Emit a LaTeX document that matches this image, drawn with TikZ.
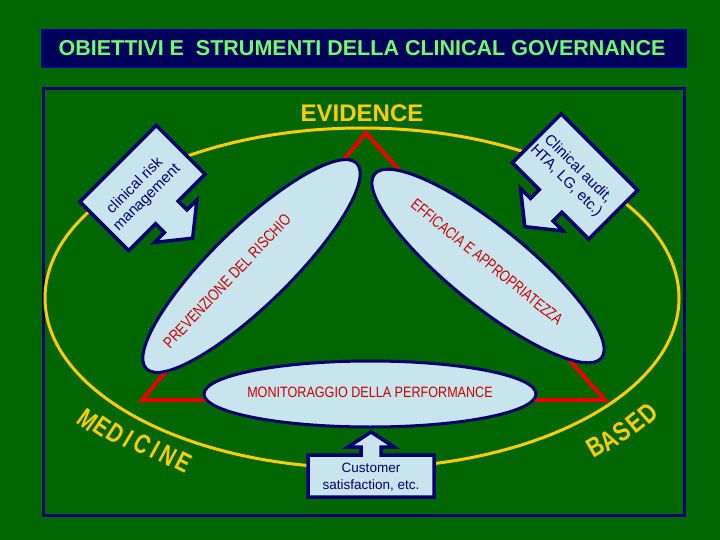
\documentclass[tikz,border=0pt]{standalone}
\usepackage{fontspec}
\setmainfont{Liberation Sans}
\usepackage{xcolor}
\definecolor{bggreen}{RGB}{0,102,0}
\definecolor{navy}{RGB}{0,0,110}
\definecolor{navyfill}{RGB}{0,0,90}
\definecolor{navyedge}{RGB}{0,0,150}
\definecolor{paleblue}{RGB}{200,228,236}
\definecolor{gold}{RGB}{255,204,0}
\definecolor{tred}{RGB}{235,0,0}
\definecolor{textred}{RGB}{204,0,0}
\definecolor{lime}{RGB}{110,255,110}
\tikzset{
  blob/.style={draw=navy,line width=3pt,fill=paleblue},
  callbox/.style={draw=navy,line width=3.5pt,fill=paleblue,line join=miter},
  redtext/.style={text=textred,inner sep=0pt,font=\fontsize{16}{20}\selectfont},
  calltext/.style={text=navy,align=center,inner sep=0pt,font=\fontsize{15}{17}\selectfont},
  bigletter/.style={text=gold,inner sep=0pt,font=\bfseries\fontsize{27}{27}\selectfont}
}

\begin{document}
\begin{tikzpicture}[x=1pt,y=-1pt]
        \useasboundingbox (0,0) rectangle (720,540);
        \fill[bggreen] (0,0) rectangle (720,540);
        % title bar
        \draw[draw=navyedge,fill=navyfill,line width=2pt] (42,30) rectangle (686,67);
        \node[text=lime,font=\bfseries\fontsize{21.5}{24}\selectfont] (title) at (362,48) {OBIETTIVI E\ \ STRUMENTI DELLA CLINICAL GOVERNANCE};
        \draw[navy,line width=3pt] (43,89) rectangle (684,515);
        \draw[gold,line width=3pt] (362,298) ellipse [x radius=317,y radius=170];
        \node[text=gold,font=\bfseries\fontsize{24}{24}\selectfont] (evidence) at (362,113.5) {EVIDENCE};
        \draw[tred,line width=4pt,line join=miter] (366,133) -- (605,400) -- (142,400) -- cycle;
        % the three ellipses
        \draw[blob,rotate around={44.3:(251.5,266)}] (251.5,266) ellipse [x radius=147,y radius=39];
        \draw[blob,rotate around={-39:(488,266)}] (488,266) ellipse [x radius=146,y radius=39];
        \draw[blob] (370,394) ellipse [x radius=166,y radius=33];
        \node[redtext,rotate=46.5] (prevent) at (227,281) {\scalebox{0.8}[1]{PREVENZIONE DEL RISCHIO}};
        \node[redtext,rotate=-39] (effic) at (487,262) {\scalebox{0.77}[1]{EFFICACIA E APPROPRIATEZZA}};
        \node[redtext,font=\fontsize{15}{18}\selectfont] (monit) at (370,392) {\scalebox{0.84}[1]{MONITORAGGIO DELLA PERFORMANCE}};
        % callouts, arrow along local +y
        \foreach \cx/\cy/\ang in {142.5/188/45, 575/176.5/-45}{
            \begin{scope}[shift={(\cx,\cy)},rotate=\ang]
                \draw[callbox] (-54,-34.5) -- (54,-34.5) -- (54,34.5) -- (16,34.5) -- (16,47) -- (30,47) -- (0,71) -- (-30,47) -- (-16,47) -- (-16,34.5) -- (-54,34.5) -- cycle;
            \end{scope}
        }
        \node[calltext,rotate=45] (risk) at (141,192) {clinical risk\\management};
        \node[calltext,rotate=-45] (audit) at (572,175) {Clinical audit,\\HTA, LG, etc.)};
        \draw[callbox] (308,455) -- (361,455) -- (361,447) -- (348,447) -- (371,432) -- (394,447) -- (381,447) -- (381,455) -- (434,455) -- (434,497) -- (308,497) -- cycle;
        \node[calltext,font=\fontsize{13.5}{17}\selectfont] (cust) at (371,477) {Customer\\satisfaction, etc.};
        % curved words
        \foreach \ch/\px/\py/\ang [count=\k] in {M/88/420/-36, E/102/427/-34, D/116/434/-33, I/129/439/-31, C/142/444/-30, I/155/450/-29, N/168/456/-28, E/184/462/-27}
            \node[bigletter,rotate=\ang] (med\k) at (\px,\py) {\scalebox{0.75}[1]{\ch}};
        \foreach \ch/\px/\py/\ang [count=\k] in {B/596/447/30, A/609/440/33, S/622/432/36, E/635/423/39, D/648/413/42}
            \node[bigletter,rotate=\ang] (based\k) at (\px,\py) {\scalebox{0.8}[1]{\ch}};
    \end{tikzpicture}
\end{document}
